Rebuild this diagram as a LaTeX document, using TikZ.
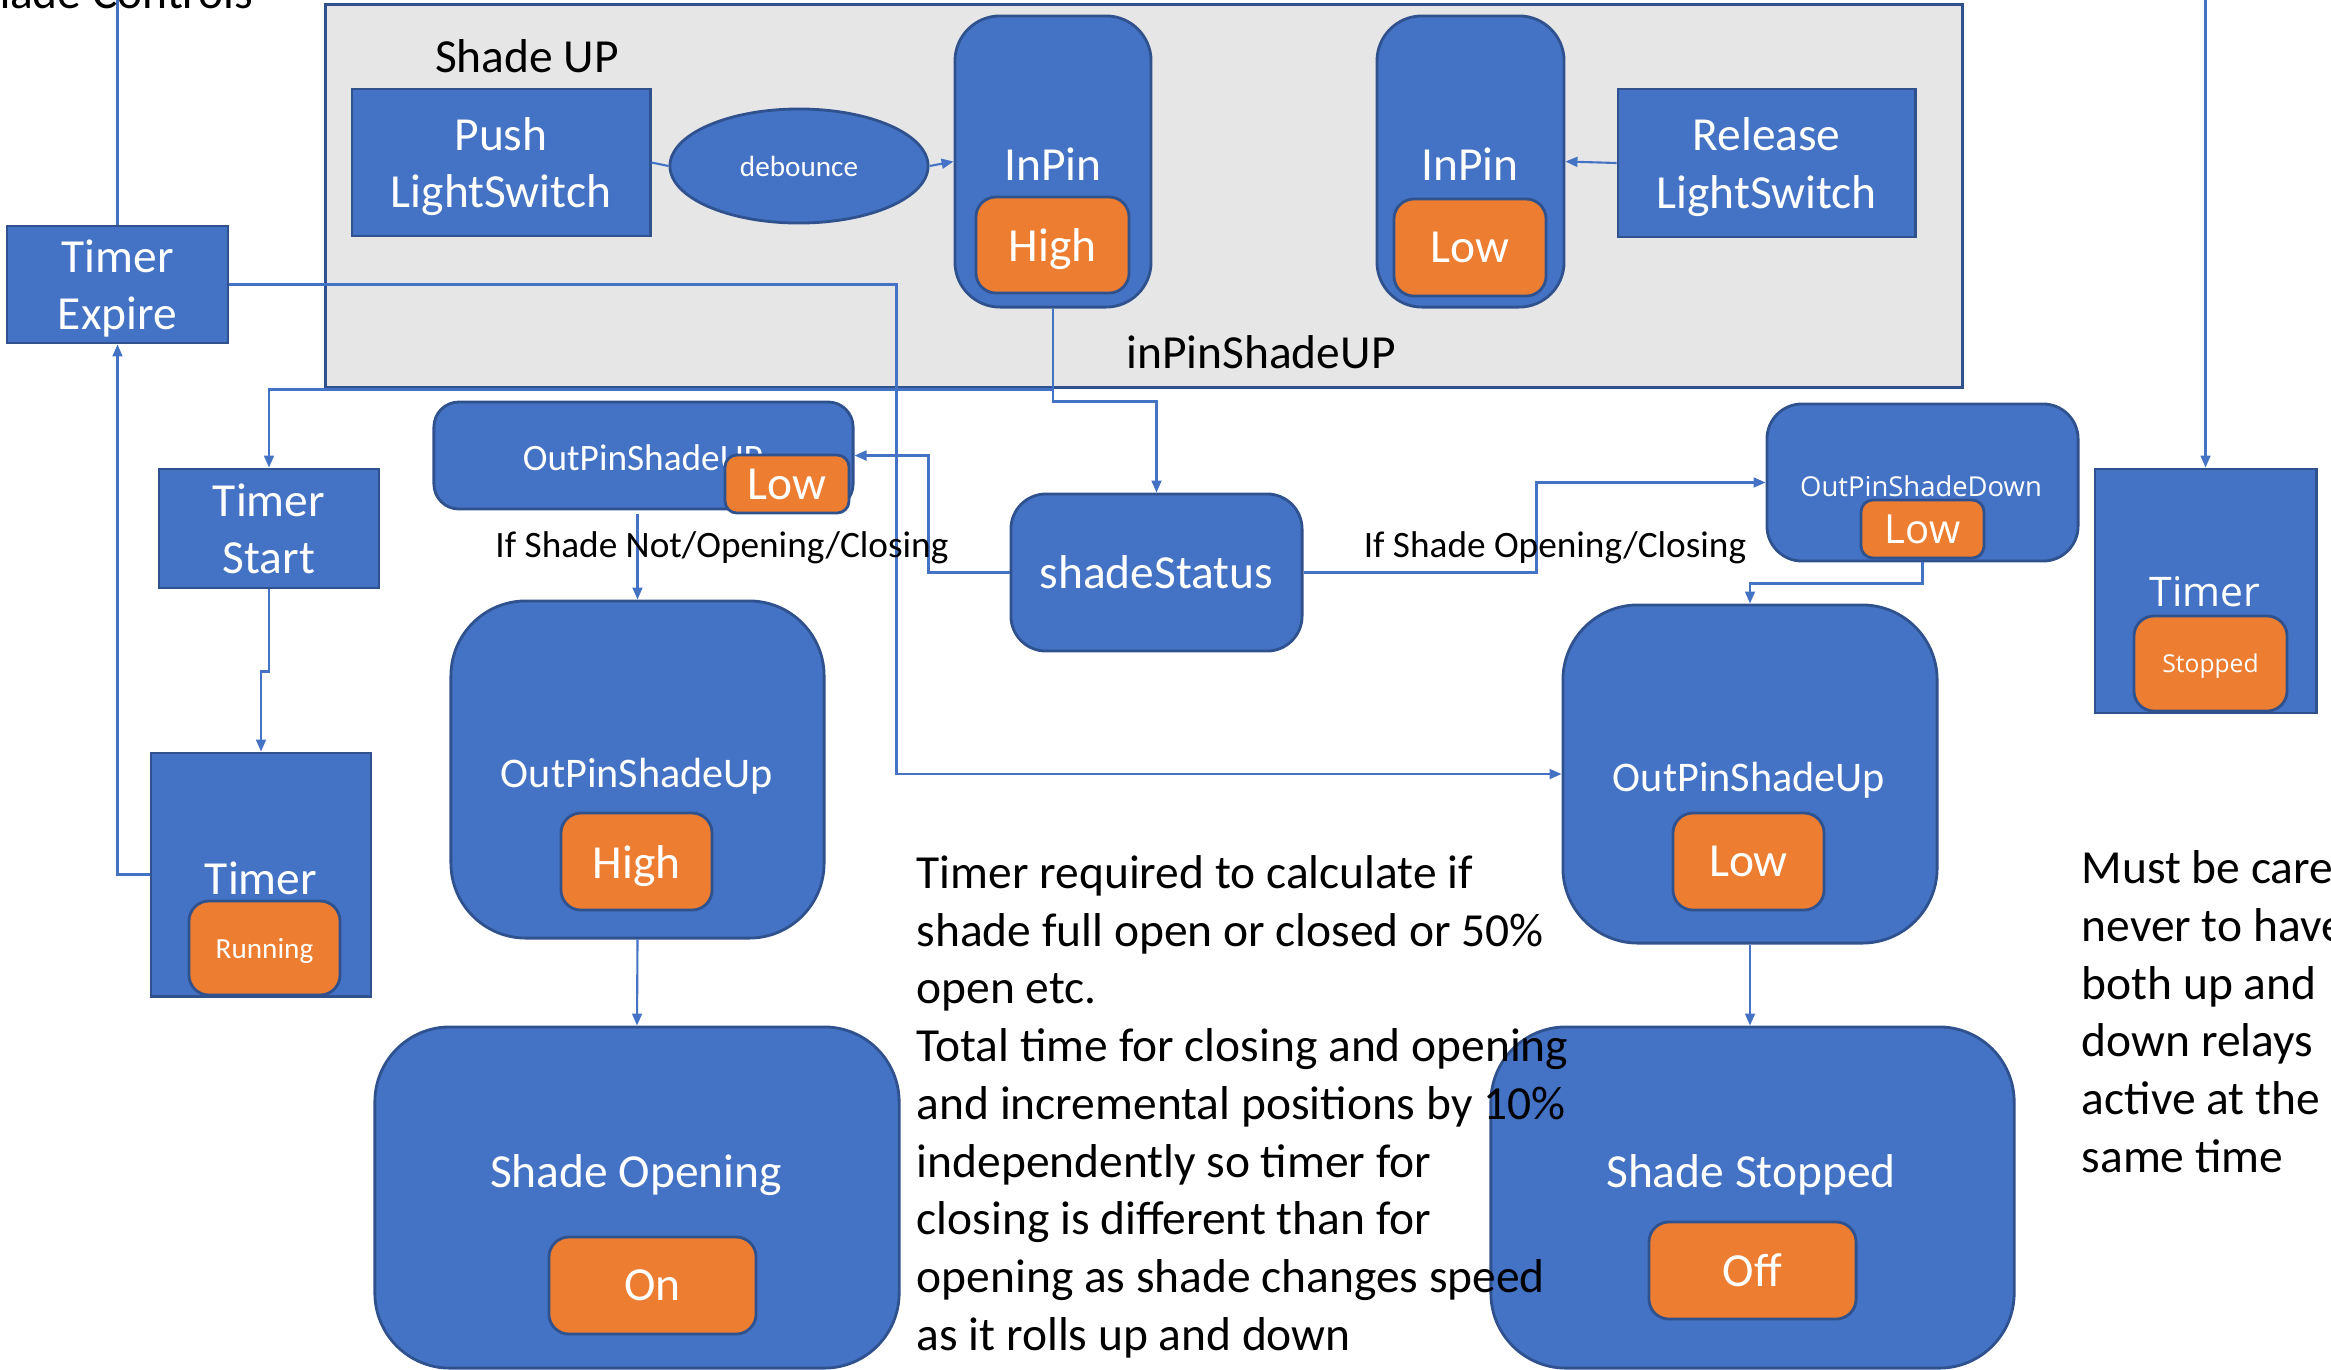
\documentclass[tikz,border=0pt]{standalone}
\usepackage{fontspec}
\setmainfont{Carlito}
\newfontfamily\segoe{Open Sans}
\usetikzlibrary{arrows.meta,shapes.geometric}
\definecolor{fillblue}{HTML}{4472C4}
\definecolor{edgeblue}{HTML}{2F528F}
\definecolor{pinorange}{HTML}{ED7D31}
\definecolor{panelgray}{HTML}{E7E6E6}
\newcommand{\szBig}{\fontsize{13.5pt}{16.4pt}\selectfont}
\newcommand{\szMid}{\fontsize{12pt}{14.5pt}\selectfont}
\newcommand{\szLab}{\fontsize{10.6pt}{13pt}\selectfont}
\newcommand{\szTiny}{\fontsize{8.3pt}{10pt}\selectfont}

\begin{document}
\begin{tikzpicture}[x=0.01cm, y=-0.01cm, >={Triangle[length=3.4pt,width=2.8pt]},
             every node/.style={inner sep=0pt, text depth=0pt, font=\szBig},
             blk/.style={rectangle, draw=edgeblue, fill=fillblue, line width=0.8pt,
                         text=white, align=center},
             rblk/.style={blk, rounded corners=#1},
             rblk/.default=0.45cm,
             pin/.style={rectangle, draw=edgeblue, fill=pinorange, line width=0.8pt,
                         text=white, rounded corners=0.2cm},
             wire/.style={draw=fillblue, line width=0.6pt},
             note/.style={text=black, align=left}]
\useasboundingbox (0,0) rectangle (2331,1369);
\coordinate (ctrlTop) at (117.5,-30);
\coordinate (stopTop) at (2205.5,-30);

%% Shade UP panel
\node[rectangle, draw=edgeblue, fill=panelgray, line width=0.8pt,
      minimum width=16.36cm, minimum height=3.82cm] (panel) at (1144,196) {};
\node[anchor=base] (panelTitle) at (527,72) {Shade UP};
\node[anchor=base] (panelName) at (1261,368) {inPinShadeUP};
\node[blk, minimum width=2.98cm, minimum height=1.47cm] (pushSw) at (501,162.5) {Push\\LightSwitch};
\node[ellipse, draw=edgeblue, fill=fillblue, line width=0.8pt, text=white, font=\szTiny,
      minimum width=2.58cm, minimum height=1.14cm] (debounce) at (799,166) {debounce};
\node[rblk, minimum width=1.96cm, minimum height=2.91cm] (inHigh) at (1053,161.5) {};
\node[text=white] (inHighTxt) at (1053,164) {InPin};
\node[pin, minimum width=1.53cm, minimum height=0.96cm] (inHighVal) at (1052.5,245) {High};
\node[rblk, minimum width=1.87cm, minimum height=2.91cm] (inLow) at (1470.5,161.5) {};
\node[text=white] (inLowTxt) at (1470,164) {InPin};
\node[pin, minimum width=1.52cm, minimum height=0.97cm] (inLowVal) at (1470,247.5) {Low};
\node[blk, minimum width=2.97cm, minimum height=1.48cm] (releaseSw) at (1766.5,163) {Release\\LightSwitch};

%% timers
\node[blk, minimum width=2.21cm, minimum height=1.17cm] (timerExpire) at (117.5,284.5) {Timer\\Expire};
\node[blk, minimum width=2.20cm, minimum height=1.19cm] (timerStart) at (269,528.5) {Timer\\Start};
\node[blk, minimum width=2.20cm, minimum height=2.43cm] (timerRun) at (261,874.5) {};
\node[text=white] (timerRunTxt) at (261,878) {Timer};
\node[pin, font=\szTiny, minimum width=1.51cm, minimum height=0.94cm] (timerRunVal) at (264.5,948) {Running};
\node[blk, minimum width=2.21cm, minimum height=2.44cm] (timerStop) at (2205.5,591) {};
\node[text=white, font=\segoe\fontsize{11.6pt}{14pt}\selectfont] (timerStopTxt) at (2205,592) {Timer};
\node[pin, font=\segoe\fontsize{7pt}{9pt}\selectfont,
      minimum width=1.53cm, minimum height=0.95cm] (timerStopVal) at (2210.5,663.5) {Stopped};

%% shade up side
\node[rblk=0.25cm, minimum width=4.19cm, minimum height=1.07cm] (outUpLow) at (643.5,455.5) {};
\node[text=white, font=\szLab] (outUpLowTxt) at (643,458) {OutPinShadeUP};
\node[pin, rounded corners=0.12cm, minimum width=1.24cm, minimum height=0.58cm] (outUpLowVal) at (787,484) {Low};
\node[rblk=0.75cm, minimum width=3.73cm, minimum height=3.37cm] (bigUpHigh) at (637.5,769.5) {};
\node[text=white, font=\szMid] (bigUpHighTxt) at (637,773) {OutPinShadeUp};
\node[pin, minimum width=1.51cm, minimum height=0.97cm] (bigUpHighVal) at (636.5,861.5) {High};
\node[rblk=0.75cm, minimum width=5.24cm, minimum height=3.41cm] (shadeOpen) at (637,1197.5) {};
\node[text=white] (shadeOpenTxt) at (636,1171) {Shade Opening};
\node[pin, minimum width=2.07cm, minimum height=0.97cm] (shadeOpenVal) at (652.5,1285.5) {On};

%% status and shade down side
\node[rblk=0.35cm, minimum width=2.91cm, minimum height=1.57cm] (status) at (1156.5,572.5) {shadeStatus};
\node[rblk=0.35cm, minimum width=3.11cm, minimum height=1.57cm] (outDown) at (1922.5,482.5) {};
\node[text=white, font=\segoe\fontsize{7.8pt}{9pt}\selectfont] (outDownTxt) at (1921,486) {OutPinShadeDown};
\node[pin, font=\segoe\fontsize{11.4pt}{13pt}\selectfont, rounded corners=0.12cm,
      minimum width=1.23cm, minimum height=0.58cm] (outDownVal) at (1922.5,529) {Low};
\node[rblk=0.75cm, minimum width=3.74cm, minimum height=3.38cm] (bigUpLow) at (1750,774) {};
\node[text=white, font=\szMid] (bigUpLowTxt) at (1749,777) {OutPinShadeUp};
\node[pin, minimum width=1.51cm, minimum height=0.97cm] (bigUpLowVal) at (1748.5,861.5) {Low};
\node[rblk=0.75cm, minimum width=5.23cm, minimum height=3.41cm] (shadeStop) at (1752.5,1197.5) {};
\node[text=white] (shadeStopTxt) at (1751,1171) {Shade Stopped};
\node[pin, minimum width=2.07cm, minimum height=0.97cm] (shadeStopVal) at (1752.5,1270.5) {Off};

%% connectors
\draw[wire] (pushSw.east) -- (debounce.west);
\draw[wire,->] (debounce.east) -- (inHigh.west);
\draw[wire,->] (releaseSw.west) -- (inLow.east);
\draw[wire,->] (inHigh.south) -- ++(0,81) -| (timerStart.north);
\draw[wire,->] (inHigh.south) -- ++(0,93) -| (status.north);
\draw[wire,->] (timerStart.south) -- ++(0,82) -| (timerRun.north);
\draw[wire,->] (timerRun.west) -| (timerExpire.south);
\draw[wire] (timerExpire.north) -- (ctrlTop);
\draw[wire,->] (timerExpire.east) -- ++(667,0) |- (bigUpLow.west);
\draw[wire,->] (status.west) -- ++(-81,0) |- (outUpLow.east);
\draw[wire,->] (bigUpHigh.north |- outUpLowVal.south) -- (bigUpHigh.north);
\draw[wire,->] (bigUpHigh.south) -- (shadeOpen.north);
\draw[wire,->] (status.east) -- ++(233,0) |- (outDown.west);
\draw[wire,->] (outDown.south) -- ++(0,21) -| (bigUpLow.north);
\draw[wire,->] (bigUpLow.south) -- (bigUpLow.south |- shadeStop.north);
\draw[wire,->] (stopTop) -- (timerStop.north);

%% texts
\node[anchor=base east] (ctrlTitle) at (254,8) {Shade Controls};
\node[anchor=base, font=\szLab] (ifNot) at (722,557) {If Shade Not/Opening/Closing};
\node[anchor=base, font=\szLab] (ifOpen) at (1555,557) {If Shade Opening/Closing};
\node[note, anchor=base west] (timerNote) at (916,1350) {Timer required to calculate if\\shade full open or closed or 50\%\\open etc.\\Total time for closing and opening\\and incremental positions by 10\%\\independently so timer for\\closing is different than for\\opening as shade changes speed\\as it rolls up and down};
\node[note, anchor=base west] (relayNote) at (2081,1172) {Must be careful\\never to have\\both up and\\down relays\\active at the\\same time};
\end{tikzpicture}
\end{document}
